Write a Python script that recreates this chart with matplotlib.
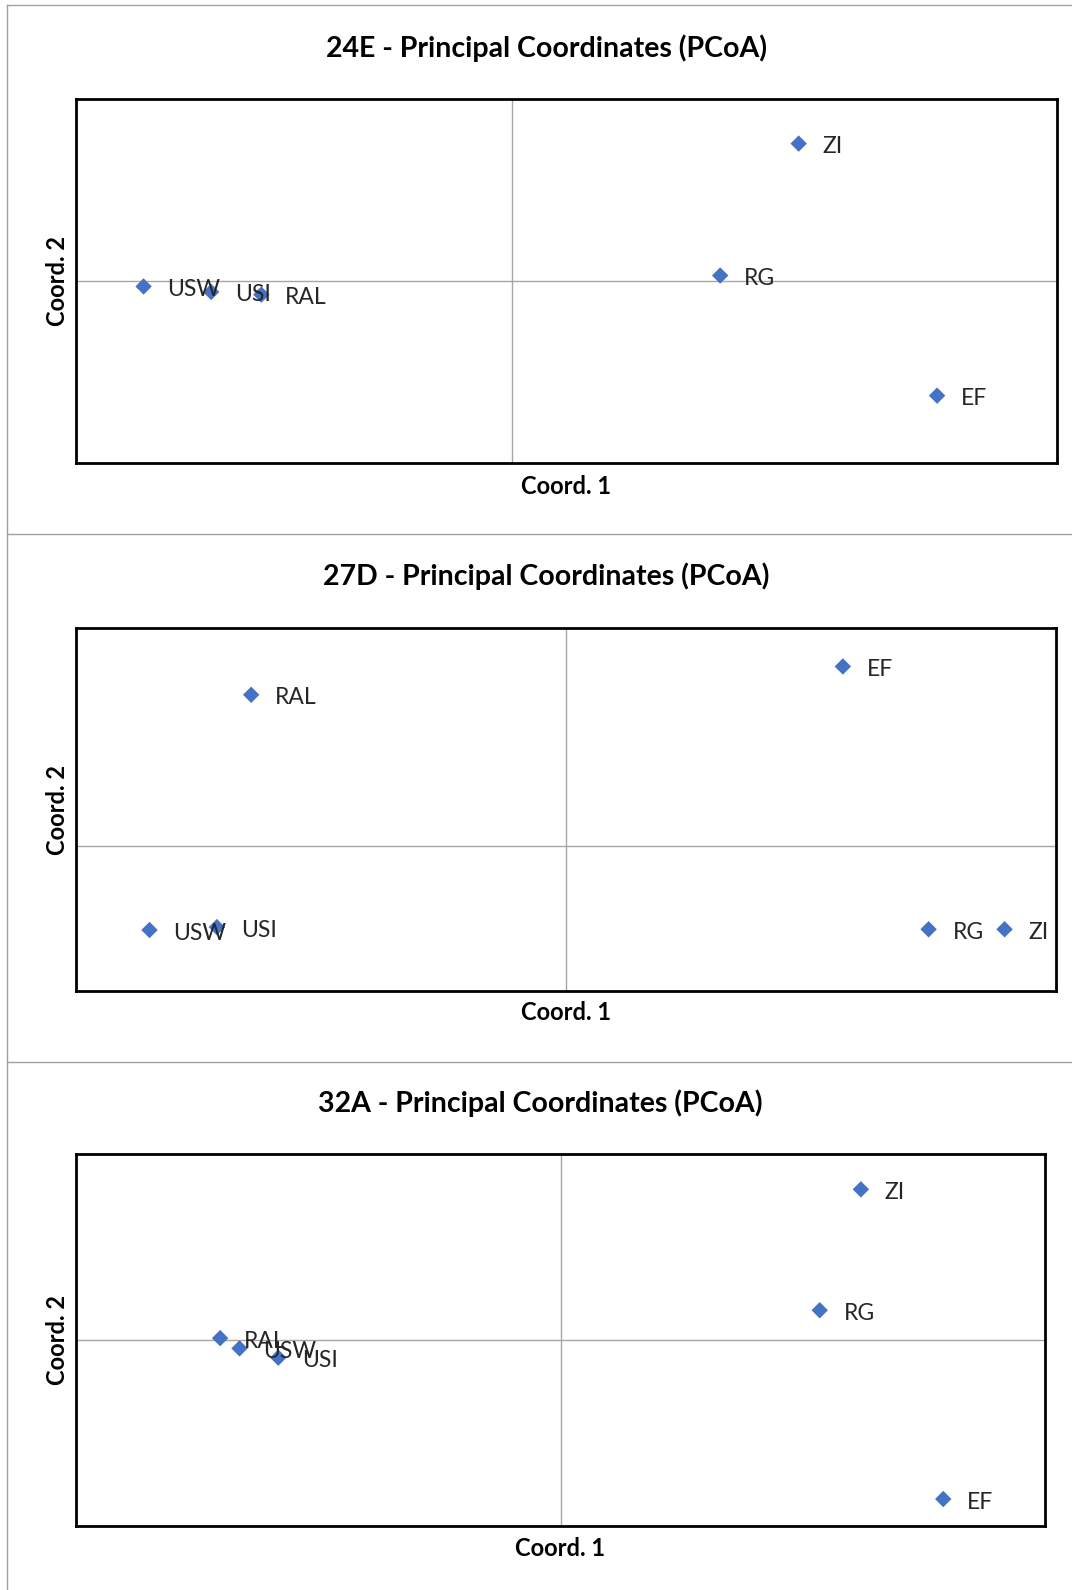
import matplotlib.pyplot as plt
from matplotlib.lines import Line2D

plt.rcParams["font.family"] = ["Lato", "DejaVu Sans"]

# PCoA scores per site (Coord. 1, Coord. 2)
titles = ["24E - Principal Coordinates (PCoA)",
          "27D - Principal Coordinates (PCoA)",
          "32A - Principal Coordinates (PCoA)"]

names_24e = ["USW", "USI", "RAL", "RG", "ZI", "EF"]
coord1_24e = [-0.338, -0.276, -0.230, 0.191, 0.263, 0.390]
coord2_24e = [-0.006, -0.012, -0.015, 0.006, 0.151, -0.126]

names_27d = ["RAL", "EF", "USW", "USI", "RG", "ZI"]
coord1_27d = [-0.257, 0.226, -0.340, -0.285, 0.296, 0.358]
coord2_27d = [0.208, 0.247, -0.116, -0.112, -0.115, -0.115]

names_32a = ["RAL", "USW", "USI", "RG", "ZI", "EF"]
coord1_32a = [-0.281, -0.265, -0.233, 0.214, 0.248, 0.316]
coord2_32a = [0.002, -0.009, -0.019, 0.032, 0.162, -0.171]

xlims = [(-0.4, 0.5), (-0.4, 0.4), (-0.4, 0.4)]
ylims = [(-0.2, 0.2), (-0.2, 0.3), (-0.2, 0.2)]

W, H = 1072, 1590
fig = plt.figure(figsize=(W / 100, H / 100), dpi=100)

def fx(px):
    return px / W

def fy(py):
    return 1 - py / H

# plot-area boxes in pixels: left, top, right, bottom
boxes = [(76, 99, 1057, 463), (76, 628, 1056, 991), (76, 1154, 1045, 1526)]
title_y = [48, 576, 1103]
title_x = [546, 546, 540]
xlabel_y = [486, 1013, 1548]

panels = [(names_24e, coord1_24e, coord2_24e),
          (names_27d, coord1_27d, coord2_27d),
          (names_32a, coord1_32a, coord2_32a)]

gray = "#A6A6A6"

for i, (names, c1, c2) in enumerate(panels):
    l, t, r, b = boxes[i]
    ax = fig.add_axes([fx(l), fy(b), fx(r - l), (b - t) / H])
    ax.set_xlim(*xlims[i])
    ax.set_ylim(*ylims[i])
    ax.axhline(0, color=gray, lw=1, zorder=1)
    ax.axvline(0, color=gray, lw=1, zorder=1)
    ax.scatter(c1, c2, marker="D", s=70, color="#4472C4", edgecolors="none", zorder=3)
    for n, x, y in zip(names, c1, c2):
        ax.annotate(n, (x, y), xytext=(24, -3), textcoords="offset pixels",
                    ha="left", va="center", fontsize=16.5, color="#262626", zorder=4)
    ax.set_xticks([])
    ax.set_yticks([])
    for s in ax.spines.values():
        s.set_linewidth(2)
        s.set_color("black")
    fig.text(fx(title_x[i]), fy(title_y[i]), titles[i], ha="center", va="center",
             fontsize=20.5, fontweight="bold")
    fig.text(fx((l + r) / 2), fy(xlabel_y[i]), "Coord. 1", ha="center", va="center",
             fontsize=17, fontweight="bold")
    fig.text(fx(58), fy((t + b) / 2), "Coord. 2", ha="center", va="center",
             rotation=90, fontsize=17, fontweight="bold")

# chart-area borders
border = "#A0A0A0"
fig.add_artist(Line2D([fx(7), 1], [fy(5), fy(5)], color=border, lw=1))
fig.add_artist(Line2D([fx(7), fx(7)], [fy(5), 0], color=border, lw=1))
for sy in [534, 1062]:
    fig.add_artist(Line2D([fx(7), 1], [fy(sy), fy(sy)], color=border, lw=1))

fig.savefig("out.png", dpi=100, facecolor="white")
